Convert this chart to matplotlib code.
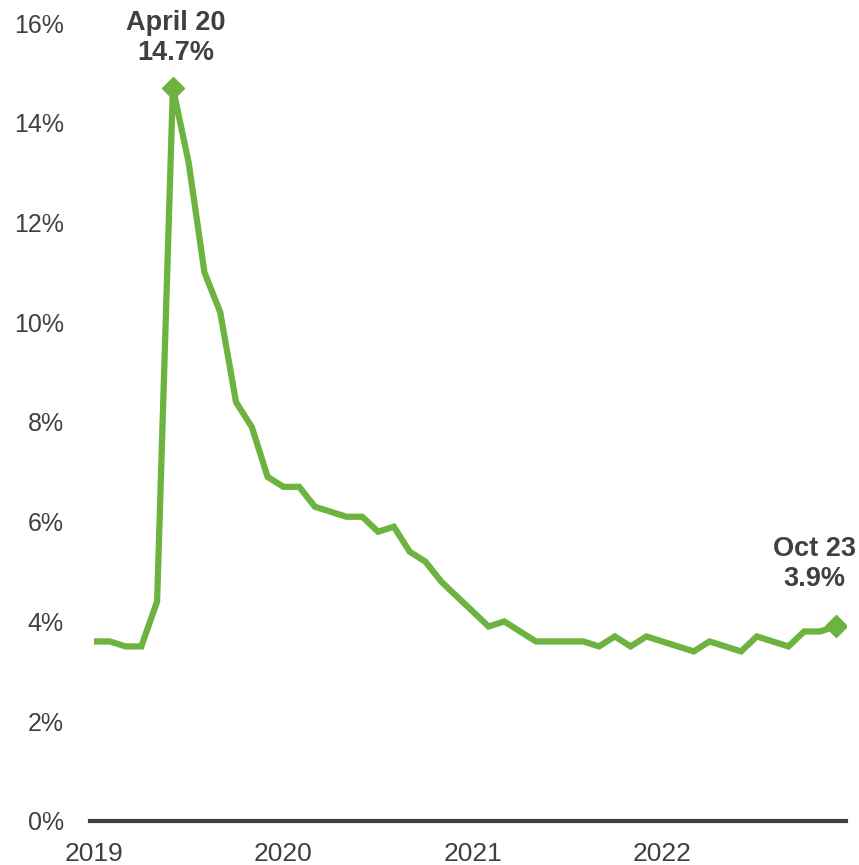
import matplotlib
matplotlib.use("Agg")
import matplotlib.pyplot as plt
import numpy as np

plt.rcParams["font.family"] = ["Liberation Sans", "DejaVu Sans"]

# monthly unemployment rate, Nov 2019 .. Oct 2023
months = [
    "Nov 19", "Dec 19",
    "Jan 20", "Feb 20", "Mar 20", "April 20", "May 20", "Jun 20",
    "Jul 20", "Aug 20", "Sep 20", "Oct 20", "Nov 20", "Dec 20",
    "Jan 21", "Feb 21", "Mar 21", "Apr 21", "May 21", "Jun 21",
    "Jul 21", "Aug 21", "Sep 21", "Oct 21", "Nov 21", "Dec 21",
    "Jan 22", "Feb 22", "Mar 22", "Apr 22", "May 22", "Jun 22",
    "Jul 22", "Aug 22", "Sep 22", "Oct 22", "Nov 22", "Dec 22",
    "Jan 23", "Feb 23", "Mar 23", "Apr 23", "May 23", "Jun 23",
    "Jul 23", "Aug 23", "Sep 23", "Oct 23",
]
rate = [
    3.6, 3.6,
    3.5, 3.5, 4.4, 14.7, 13.2, 11.0,
    10.2, 8.4, 7.9, 6.9, 6.7, 6.7,
    6.3, 6.2, 6.1, 6.1, 5.8, 5.9,
    5.4, 5.2, 4.8, 4.5, 4.2, 3.9,
    4.0, 3.8, 3.6, 3.6, 3.6, 3.6,
    3.5, 3.7, 3.5, 3.7, 3.6, 3.5,
    3.4, 3.6, 3.5, 3.4, 3.7, 3.6,
    3.5, 3.8, 3.8, 3.9,
]
year_labels = ["2019", "2020", "2021", "2022"]
year_pos = [0, 12, 24, 36]
y_ticks = [0, 2, 4, 6, 8, 10, 12, 14, 16]

GREEN = "#6DB33F"
DARK = "#404040"

x = np.arange(len(rate))
peak = int(np.argmax(rate))
last = len(rate) - 1

fig = plt.figure(figsize=(8.59, 8.65), dpi=100)
ax = fig.add_axes([0.1048, 0.0509, 0.8801, 0.9225])

ax.plot(x, rate, color=GREEN, linewidth=4.5, solid_joinstyle="miter",
        solid_capstyle="butt", zorder=3)
ax.plot([x[peak], x[last]], [rate[peak], rate[last]], linestyle="none",
        marker="D", markersize=11, color=GREEN, zorder=4)

ax.set_xlim(-0.25, 47.65)
ax.set_ylim(0, 16)
ax.set_yticks(y_ticks)
ax.set_yticklabels([f"{v}%" for v in y_ticks])
ax.set_xticks(year_pos)
ax.set_xticklabels(year_labels)
ax.tick_params(axis="y", length=0, pad=19, labelsize=18, labelcolor=DARK)
ax.tick_params(axis="x", length=0, pad=15, labelsize=19, labelcolor=DARK)

for s in ("top", "right", "left"):
    ax.spines[s].set_visible(False)
ax.spines["bottom"].set_color(DARK)
ax.spines["bottom"].set_linewidth(3)

ax.annotate(f"{months[peak]}\n{rate[peak]}%",
            xy=(x[peak], rate[peak]), xytext=(3, 50), textcoords="offset pixels",
            ha="center", va="center", fontsize=19.5, fontweight="bold",
            color=DARK, linespacing=1.2)
ax.annotate(f"{months[last]}\n{rate[last]}%",
            xy=(x[last], rate[last]), xytext=(-21, 62), textcoords="offset pixels",
            ha="center", va="center", fontsize=19.5, fontweight="bold",
            color=DARK, linespacing=1.2)

fig.savefig("out.png", dpi=100, facecolor="white")
